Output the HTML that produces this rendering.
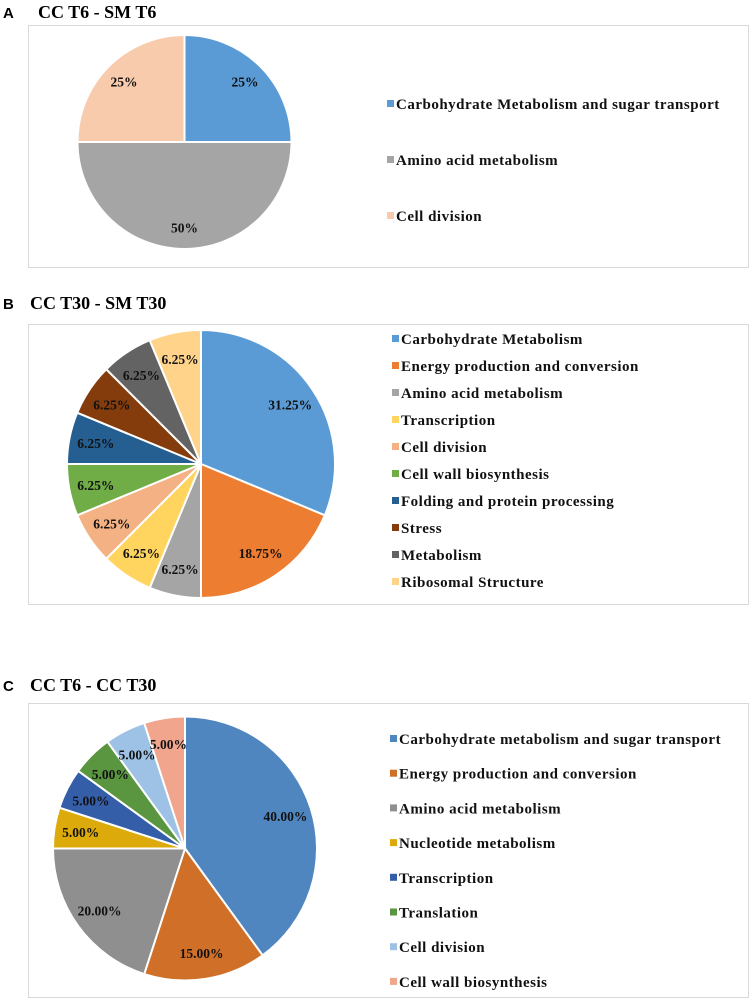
<!DOCTYPE html>
<html><head><meta charset="utf-8">
<style>
html,body{margin:0;padding:0;background:#fff;}
svg{display:block;}
.pl{font-family:"Liberation Sans",sans-serif;font-weight:bold;font-size:15px;}
.tt{font-family:"Liberation Serif",serif;font-weight:bold;font-size:18px;}
.lg{font-family:"Liberation Serif",serif;font-weight:bold;font-size:15px;letter-spacing:0.5px;fill:#111;}
.dl{font-family:"Liberation Serif",serif;font-weight:bold;font-size:13.5px;fill:#111;}
</style></head>
<body>
<svg id="root" width="756" height="1001" viewBox="0 0 756 1001" xmlns="http://www.w3.org/2000/svg">
  <text x="3" y="18" class="pl">A</text>
  <text x="38" y="18" class="tt">CC T6 - SM T6</text>
  <rect x="28.5" y="25.5" width="720" height="242" fill="#fff" stroke="#d9d9d9"/>
  <text x="3" y="309" class="pl">B</text>
  <text x="30" y="309" class="tt">CC T30 - SM T30</text>
  <rect x="28.5" y="324.5" width="720" height="280" fill="#fff" stroke="#d9d9d9"/>
  <text x="3" y="691" class="pl">C</text>
  <text x="30" y="691" class="tt">CC T6 - CC T30</text>
  <rect x="28.5" y="703.5" width="720" height="294" fill="#fff" stroke="#d9d9d9"/>
  <g id="pies"></g>
</svg>
<script>
const aCategories = ["Carbohydrate Metabolism and sugar transport","Amino acid metabolism","Cell division"];
const aValues = [25,50,25];
const aLabels = ["25%","50%","25%"];
const aColors = ["#5b9bd5","#a5a5a5","#f8cbad"];

const bCategories = ["Carbohydrate Metabolism","Energy production and conversion","Amino acid metabolism","Transcription","Cell division","Cell wall biosynthesis","Folding and protein processing","Stress","Metabolism","Ribosomal Structure"];
const bValues = [31.25,18.75,6.25,6.25,6.25,6.25,6.25,6.25,6.25,6.25];
const bLabels = ["31.25%","18.75%","6.25%","6.25%","6.25%","6.25%","6.25%","6.25%","6.25%","6.25%"];
const bColors = ["#5b9bd5","#ed7d31","#a5a5a5","#ffd45f","#f4b183","#70ad47","#255e91","#843c0c","#636363","#ffd38a"];

const cCategories = ["Carbohydrate metabolism and sugar transport","Energy production and conversion","Amino acid metabolism","Nucleotide metabolism","Transcription","Translation","Cell division","Cell wall biosynthesis"];
const cValues = [40,15,20,5,5,5,5,5];
const cLabels = ["40.00%","15.00%","20.00%","5.00%","5.00%","5.00%","5.00%","5.00%"];
const cColors = ["#4f86bf","#d06f27","#8f8f8f","#dcab0b","#355ea8","#5a9540","#9dc2e6","#f0a58c"];

const NS = "http://www.w3.org/2000/svg";
const g = document.getElementById("pies");

function mk(tag, attrs){ const e=document.createElementNS(NS,tag); for(const k in attrs) e.setAttribute(k,attrs[k]); return e; }

function drawPie(prefix, cats, vals, labels, colors, cx, cy, r, lx, ly0, lstep){
  const total = vals.reduce((a,b)=>a+b,0);
  let a0 = -Math.PI/2;
  vals.forEach((v,i)=>{
    const a1 = a0 + v/total*2*Math.PI;
    const x0=cx+r*Math.cos(a0), y0=cy+r*Math.sin(a0), x1=cx+r*Math.cos(a1), y1=cy+r*Math.sin(a1);
    const large = (a1-a0)>Math.PI?1:0;
    const p = mk("path",{d:`M${cx},${cy} L${x0},${y0} A${r},${r} 0 ${large} 1 ${x1},${y1} Z`,fill:colors[i],stroke:"#fff","stroke-width":2});
    
    
    g.appendChild(p);
    const am=(a0+a1)/2, d=r*0.8;
    const t = mk("text",{x:cx+d*Math.cos(am),y:cy+d*Math.sin(am)+5,"text-anchor":"middle",class:"dl"});
    t.textContent = labels[i];
    
    
    g.appendChild(t);
    a0=a1;
  });
  cats.forEach((c,i)=>{
    const y = ly0 + i*lstep;
    const s = mk("rect",{x:lx,y:y-4,width:7,height:7,fill:colors[i]});
    
    
    g.appendChild(s);
    const t = mk("text",{x:lx+9,y:y+5,class:"lg"});
    t.textContent = c;
    
    
    g.appendChild(t);
  });
}
drawPie("pie-a", aCategories, aValues, aLabels, aColors, 184.5, 142, 107, 387, 104, 56);
drawPie("pie-b", bCategories, bValues, bLabels, bColors, 201, 464, 134, 392, 339, 27);
drawPie("pie-c", cCategories, cValues, cLabels, cColors, 185, 848.5, 132, 390, 739, 34.7);
</script>
</body></html>
